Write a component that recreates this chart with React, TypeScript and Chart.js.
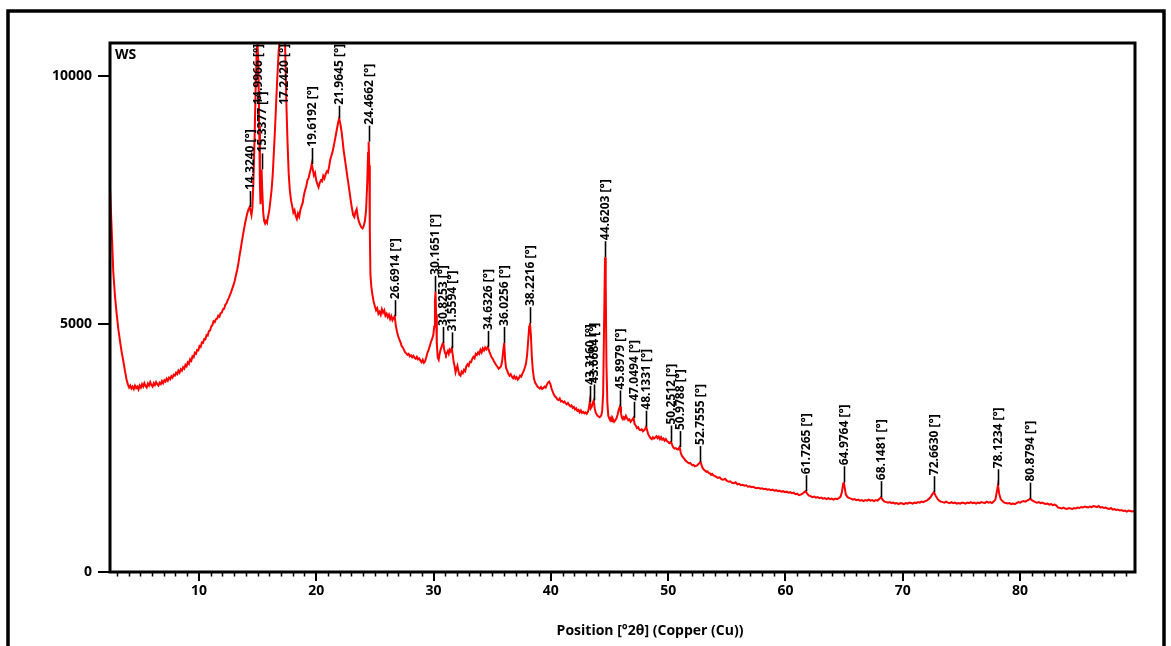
import React, { useEffect, useRef } from 'react';
import { Chart, registerables } from 'chart.js';

Chart.register(...registerables);

// XRD pattern, sample "WS" — [2θ (°), counts]
const lowAngle: [number, number][] = [
  [2.42, 7750], [2.55, 7000], [2.70, 6050], [2.85, 5550], [2.99, 5200], [3.13, 4900], [3.27, 4660],
  [3.41, 4440], [3.55, 4260], [3.70, 4050], [3.84, 3870], [3.95, 3780], [4.05, 3720], [4.15, 3760],
  [4.25, 3700], [4.35, 3740], [4.45, 3690], [4.55, 3760], [4.65, 3710], [4.75, 3740], [4.85, 3680],
  [4.95, 3760], [5.05, 3720], [5.15, 3790], [5.25, 3740], [5.35, 3810], [5.45, 3750], [5.55, 3720],
  [5.65, 3800], [5.75, 3760], [5.85, 3830], [5.95, 3770], [6.05, 3740], [6.15, 3810], [6.25, 3770],
  [6.35, 3830], [6.45, 3790], [6.55, 3760], [6.65, 3820], [6.75, 3790], [6.85, 3850], [6.95, 3810],
  [7.05, 3870], [7.15, 3840], [7.25, 3900], [7.35, 3860], [7.45, 3920], [7.55, 3890], [7.65, 3950],
  [7.75, 3920], [7.85, 3980], [7.95, 3960], [8.05, 4020], [8.15, 3990], [8.25, 4060], [8.35, 4020],
  [8.45, 4090], [8.55, 4060], [8.65, 4130], [8.75, 4100], [8.85, 4180], [8.95, 4150], [9.05, 4230],
  [9.15, 4200], [9.25, 4290], [9.35, 4260], [9.45, 4350], [9.55, 4330], [9.65, 4420], [9.75, 4400],
  [9.85, 4480], [9.95, 4470], [10.05, 4560], [10.15, 4540], [10.25, 4630], [10.35, 4620], [10.45, 4700],
  [10.55, 4690], [10.65, 4780], [10.75, 4770], [10.85, 4860], [10.95, 4870], [11.05, 4950], [11.15, 4980],
  [11.25, 5060], [11.35, 5040], [11.45, 5100], [11.55, 5110], [11.65, 5170], [11.75, 5150], [11.85, 5220],
  [11.95, 5230], [12.05, 5300], [12.15, 5310], [12.25, 5390], [12.35, 5420], [12.45, 5480], [12.55, 5530],
  [12.65, 5590], [12.75, 5650], [12.85, 5720], [12.95, 5790], [13.05, 5870], [13.15, 5980], [13.25, 6080],
  [13.35, 6200], [13.45, 6360], [13.55, 6500], [13.65, 6650], [13.75, 6790], [13.85, 6920], [13.95, 7050],
  [14.05, 7160], [14.15, 7260], [14.25, 7330],
];

const amorphousHump: [number, number][] = [
  [14.32, 7360], [14.40, 7290], [14.48, 7200], [14.56, 7350], [14.65, 7900], [14.75, 8800], [14.85, 9900],
  [14.93, 10550], [15.00, 10650], [15.07, 10200], [15.14, 9000], [15.20, 7800], [15.25, 7420], [15.30, 7800],
  [15.34, 8120], [15.40, 7700], [15.48, 7250], [15.56, 7080], [15.64, 7030], [15.72, 7080], [15.80, 7050],
  [15.90, 7170], [16.00, 7300], [16.10, 7500], [16.20, 7720], [16.30, 8050], [16.40, 8520], [16.50, 9000],
  [16.60, 9550], [16.70, 10050], [16.80, 10500], [16.90, 10800], [17.00, 11000], [17.10, 11100], [17.24, 11200],
  [17.35, 10600], [17.45, 9500], [17.55, 8700], [17.65, 8050], [17.75, 7700], [17.85, 7500], [17.95, 7380],
  [18.05, 7250], [18.15, 7300], [18.25, 7180], [18.35, 7120], [18.45, 7230], [18.55, 7170], [18.65, 7300],
  [18.75, 7380], [18.85, 7450], [18.95, 7600], [19.05, 7700], [19.15, 7780], [19.25, 7900], [19.35, 7950],
  [19.45, 8050], [19.55, 8150], [19.62, 8230], [19.70, 8130], [19.80, 8000], [19.90, 8050], [20.00, 7900],
  [20.10, 7820], [20.20, 7760], [20.30, 7850], [20.40, 7900], [20.50, 7880], [20.60, 7990], [20.70, 7940],
  [20.80, 8020], [20.90, 8080], [21.00, 8060], [21.10, 8180], [21.20, 8320], [21.30, 8400], [21.40, 8480],
  [21.50, 8600], [21.60, 8720], [21.70, 8850], [21.80, 8980], [21.90, 9100], [21.96, 9150], [22.05, 9050],
  [22.15, 8900], [22.25, 8700], [22.35, 8480], [22.45, 8320], [22.55, 8150], [22.65, 7980], [22.75, 7820],
  [22.85, 7650], [22.95, 7480], [23.05, 7330], [23.15, 7200], [23.25, 7160], [23.35, 7260], [23.45, 7320],
  [23.55, 7150], [23.65, 7060], [23.75, 7000], [23.85, 6950], [23.95, 6930], [24.05, 6980], [24.15, 7080],
  [24.25, 7300], [24.35, 7850], [24.42, 8450], [24.47, 8680], [24.52, 8200], [24.57, 6900], [24.62, 6000],
];

const midAngle: [number, number][] = [
  [24.70, 5750], [24.80, 5580], [24.90, 5450], [25.00, 5360], [25.10, 5280], [25.20, 5320], [25.30, 5210],
  [25.40, 5250], [25.50, 5190], [25.60, 5300], [25.70, 5230], [25.80, 5280], [25.90, 5170], [26.00, 5210],
  [26.10, 5140], [26.20, 5190], [26.30, 5100], [26.40, 5160], [26.50, 5080], [26.60, 5130], [26.69, 5160],
  [26.78, 4980], [26.88, 4850], [26.98, 4760], [27.08, 4690], [27.18, 4640], [27.28, 4560], [27.38, 4530],
  [27.48, 4480], [27.58, 4430], [27.68, 4410], [27.78, 4380], [27.88, 4400], [27.98, 4350], [28.08, 4370],
  [28.18, 4330], [28.28, 4360], [28.38, 4320], [28.48, 4300], [28.58, 4340], [28.68, 4290], [28.78, 4310],
  [28.88, 4260], [28.98, 4230], [29.08, 4280], [29.18, 4220], [29.28, 4250], [29.38, 4330], [29.48, 4420],
  [29.58, 4480], [29.68, 4560], [29.78, 4640], [29.88, 4700], [29.98, 4780], [30.06, 4950], [30.12, 5450],
  [30.17, 5650], [30.22, 5200], [30.28, 4600], [30.36, 4320], [30.44, 4280], [30.52, 4400], [30.60, 4480],
  [30.68, 4540], [30.76, 4600], [30.83, 4620], [30.90, 4500], [30.98, 4420], [31.06, 4380], [31.14, 4420],
  [31.22, 4460], [31.30, 4400], [31.38, 4480], [31.46, 4450], [31.56, 4510], [31.64, 4380], [31.72, 4230],
  [31.80, 4150], [31.88, 4030], [31.96, 4100], [32.04, 4160], [32.12, 4060], [32.20, 3980], [32.30, 3960],
  [32.40, 4040], [32.50, 4010], [32.60, 4080], [32.70, 4050], [32.80, 4150], [32.90, 4190], [33.00, 4160],
  [33.10, 4240], [33.20, 4230], [33.30, 4300], [33.40, 4340], [33.50, 4310], [33.60, 4400], [33.70, 4380],
  [33.80, 4430], [33.90, 4400], [34.00, 4480], [34.10, 4430], [34.20, 4510], [34.30, 4470], [34.40, 4530],
  [34.50, 4490], [34.63, 4540], [34.75, 4450], [34.85, 4390], [34.95, 4330], [35.05, 4300], [35.15, 4250],
  [35.25, 4210], [35.35, 4170], [35.45, 4140], [35.55, 4100], [35.65, 4120], [35.75, 4150], [35.85, 4250],
  [35.95, 4480], [36.03, 4620], [36.10, 4300], [36.18, 4120], [36.28, 4060], [36.38, 4000], [36.48, 3960],
  [36.58, 3990], [36.68, 3940], [36.78, 3910], [36.88, 3950], [36.98, 3900], [37.08, 3930], [37.18, 3880],
  [37.28, 3910], [37.38, 3960], [37.48, 3940], [37.58, 4000], [37.68, 4050], [37.78, 4120], [37.88, 4200],
  [37.98, 4380], [38.08, 4700], [38.16, 4950], [38.22, 5020], [38.30, 4780], [38.38, 4350], [38.46, 4080],
  [38.56, 3900], [38.66, 3820], [38.76, 3780], [38.86, 3740], [38.96, 3720], [39.06, 3700], [39.16, 3730],
  [39.26, 3690], [39.36, 3710], [39.46, 3740], [39.56, 3720], [39.66, 3780], [39.76, 3820], [39.86, 3840],
  [39.96, 3790], [40.06, 3700], [40.16, 3640], [40.26, 3580], [40.36, 3540], [40.46, 3520], [40.56, 3480],
  [40.66, 3470], [40.76, 3500], [40.86, 3440], [40.96, 3450], [41.06, 3420], [41.16, 3440], [41.26, 3400],
  [41.36, 3380], [41.46, 3410], [41.56, 3370], [41.66, 3340], [41.76, 3360], [41.86, 3310], [41.96, 3330],
  [42.06, 3280], [42.16, 3300], [42.26, 3250], [42.36, 3270], [42.46, 3220], [42.56, 3260], [42.66, 3210],
  [42.76, 3230], [42.86, 3200], [42.96, 3220], [43.06, 3190], [43.16, 3230], [43.24, 3300], [43.32, 3430],
  [43.40, 3300], [43.48, 3330], [43.56, 3400], [43.66, 3460], [43.74, 3300], [43.82, 3220], [43.90, 3180],
  [43.98, 3150], [44.06, 3140], [44.14, 3120], [44.22, 3130], [44.30, 3160], [44.38, 3250], [44.46, 3600],
  [44.54, 5000], [44.62, 6350], [44.68, 5800], [44.74, 4200], [44.82, 3400], [44.90, 3150], [44.98, 3100],
  [45.06, 3060], [45.14, 3110], [45.22, 3040], [45.30, 3080], [45.40, 3030], [45.50, 3060], [45.60, 3100],
  [45.70, 3180], [45.80, 3280], [45.90, 3340], [45.98, 3200], [46.06, 3110], [46.14, 3080], [46.22, 3120],
  [46.30, 3090], [46.40, 3150], [46.50, 3100], [46.60, 3060], [46.70, 3080], [46.80, 3030], [46.90, 3060],
  [47.05, 3110], [47.15, 2980], [47.25, 2950], [47.35, 2900], [47.45, 2920], [47.55, 2870], [47.65, 2860],
  [47.75, 2880], [47.85, 2840], [47.95, 2860], [48.05, 2890], [48.13, 2930], [48.22, 2850], [48.30, 2780],
  [48.40, 2740], [48.50, 2700], [48.60, 2680], [48.70, 2720], [48.80, 2690], [48.90, 2710], [49.00, 2740],
  [49.10, 2700], [49.20, 2730], [49.30, 2680], [49.40, 2720], [49.50, 2670], [49.60, 2690], [49.70, 2650],
  [49.80, 2680], [49.90, 2640], [50.00, 2620], [50.10, 2600], [50.25, 2630], [50.35, 2560], [50.45, 2510],
  [50.55, 2490], [50.65, 2500], [50.75, 2480], [50.85, 2470], [50.98, 2520], [51.08, 2400], [51.18, 2340],
  [51.28, 2310], [51.38, 2280], [51.48, 2250], [51.58, 2230], [51.68, 2210], [51.78, 2190], [51.88, 2200],
  [51.98, 2170], [52.08, 2150], [52.18, 2160], [52.28, 2130], [52.38, 2140], [52.48, 2150], [52.58, 2180],
  [52.68, 2200], [52.76, 2220], [52.86, 2150], [52.96, 2090], [53.06, 2060], [53.16, 2040], [53.26, 2020],
  [53.36, 2030], [53.46, 2000], [53.56, 1990], [53.66, 1960], [53.76, 1980], [53.86, 1950], [53.96, 1940],
];

const highAngle: [number, number][] = [
  [54.1, 1920], [54.25, 1900], [54.4, 1910], [54.55, 1870], [54.7, 1860], [54.85, 1880], [55.0, 1840],
  [55.15, 1820], [55.3, 1830], [55.45, 1800], [55.6, 1790], [55.75, 1810], [55.9, 1770], [56.05, 1780],
  [56.2, 1750], [56.35, 1760], [56.5, 1740], [56.65, 1750], [56.8, 1720], [56.95, 1730], [57.1, 1710],
  [57.25, 1720], [57.4, 1700], [57.55, 1690], [57.7, 1700], [57.85, 1680], [58.0, 1690], [58.15, 1670],
  [58.3, 1680], [58.45, 1660], [58.6, 1670], [58.75, 1650], [58.9, 1660], [59.05, 1640], [59.2, 1650],
  [59.35, 1630], [59.5, 1640], [59.65, 1620], [59.8, 1630], [59.95, 1610], [60.1, 1620], [60.25, 1600],
  [60.4, 1610], [60.55, 1590], [60.7, 1600], [60.85, 1570], [61.0, 1580], [61.15, 1550], [61.3, 1560],
  [61.45, 1580], [61.6, 1610], [61.73, 1630], [61.85, 1580], [62.0, 1540], [62.15, 1530], [62.3, 1510],
  [62.45, 1520], [62.6, 1500], [62.75, 1510], [62.9, 1490], [63.05, 1500], [63.2, 1480], [63.35, 1490],
  [63.5, 1470], [63.65, 1490], [63.8, 1470], [63.95, 1480], [64.1, 1460], [64.25, 1480], [64.4, 1470],
  [64.55, 1490], [64.7, 1520], [64.82, 1620], [64.92, 1780], [64.98, 1810], [65.05, 1700], [65.15, 1560],
  [65.3, 1510], [65.45, 1490], [65.6, 1480], [65.75, 1460], [65.9, 1470], [66.05, 1450], [66.2, 1460],
  [66.35, 1440], [66.5, 1450], [66.65, 1430], [66.8, 1450], [66.95, 1440], [67.1, 1460], [67.25, 1440],
  [67.4, 1450], [67.55, 1430], [67.7, 1450], [67.85, 1440], [68.0, 1470], [68.15, 1510], [68.3, 1450],
  [68.45, 1420], [68.6, 1410], [68.75, 1400], [68.9, 1410], [69.05, 1390], [69.2, 1400], [69.35, 1380],
  [69.5, 1390], [69.65, 1370], [69.8, 1390], [69.95, 1380], [70.1, 1370], [70.25, 1390], [70.4, 1380],
  [70.55, 1400], [70.7, 1390], [70.85, 1380], [71.0, 1400], [71.15, 1390], [71.3, 1410], [71.45, 1400],
  [71.6, 1420], [71.75, 1410], [71.9, 1430], [72.05, 1440], [72.2, 1470], [72.35, 1500], [72.5, 1560],
  [72.66, 1610], [72.8, 1540], [72.95, 1480], [73.1, 1440], [73.25, 1420], [73.4, 1410], [73.55, 1400],
  [73.7, 1420], [73.85, 1400], [74.0, 1390], [74.15, 1410], [74.3, 1390], [74.45, 1400], [74.6, 1380],
  [74.75, 1390], [74.9, 1380], [75.05, 1400], [75.2, 1390], [75.35, 1380], [75.5, 1400], [75.65, 1390],
  [75.8, 1410], [75.95, 1390], [76.1, 1400], [76.25, 1380], [76.4, 1400], [76.55, 1390], [76.7, 1410],
  [76.85, 1400], [77.0, 1390], [77.15, 1420], [77.3, 1400], [77.45, 1410], [77.6, 1390], [77.75, 1420],
  [77.9, 1460], [78.02, 1620], [78.12, 1750], [78.22, 1580], [78.35, 1470], [78.5, 1430], [78.65, 1400],
  [78.8, 1390], [78.95, 1380], [79.1, 1390], [79.25, 1370], [79.4, 1380], [79.55, 1370], [79.7, 1390],
  [79.85, 1410], [80.0, 1400], [80.15, 1420], [80.3, 1430], [80.45, 1420], [80.6, 1440], [80.75, 1460],
  [80.88, 1480], [81.0, 1450], [81.15, 1430], [81.3, 1410], [81.45, 1400], [81.6, 1410], [81.75, 1390],
  [81.9, 1400], [82.05, 1380], [82.2, 1370], [82.35, 1380], [82.5, 1360], [82.65, 1370], [82.8, 1350],
  [82.95, 1360], [83.1, 1340], [83.25, 1300], [83.4, 1290], [83.55, 1280], [83.7, 1300], [83.85, 1280],
  [84.0, 1270], [84.15, 1290], [84.3, 1280], [84.45, 1270], [84.6, 1290], [84.75, 1280], [84.9, 1300],
  [85.05, 1290], [85.2, 1310], [85.35, 1300], [85.5, 1320], [85.65, 1310], [85.8, 1300], [85.95, 1320],
  [86.1, 1310], [86.25, 1330], [86.4, 1320], [86.55, 1310], [86.7, 1330], [86.85, 1300], [87.0, 1310],
  [87.15, 1290], [87.3, 1300], [87.45, 1280], [87.6, 1270], [87.75, 1290], [87.9, 1260], [88.05, 1270],
  [88.2, 1250], [88.35, 1260], [88.5, 1240], [88.65, 1250], [88.8, 1230], [88.95, 1240], [89.1, 1220],
  [89.25, 1240], [89.4, 1230], [89.55, 1220], [89.8, 1230],
];

// Labelled peak positions [°2θ]
const peakPositions: number[] = [
  14.3240, 14.9966, 15.3377, 17.2420, 19.6192, 21.9645, 24.4662, 26.6914, 30.1651, 30.8253,
  31.5594, 34.6326, 36.0256, 38.2216, 43.3160, 43.6684, 44.6203, 45.8979, 47.0494, 48.1331,
  50.2512, 50.9788, 52.7555, 61.7265, 64.9764, 68.1481, 72.6630, 78.1234, 80.8794,
];

const xTickValues: number[] = [10, 20, 30, 40, 50, 60, 70, 80];
const yTickValues: number[] = [0, 5000, 10000];
const xRange: [number, number] = [2.42, 89.8];
const yRange: [number, number] = [0, 10670];
const sampleName = 'WS';
const xTitle = 'Position [°2θ] (Copper (Cu))';

const pattern: [number, number][] = [...lowAngle, ...amorphousHump, ...midAngle, ...highAngle];

const FONT = '"Open Sans", "Noto Sans", "DejaVu Sans", sans-serif';

const decorPlugin = {
  id: 'decor',
  beforeDraw(chart: any) {
    const { ctx } = chart;
    ctx.save();
    ctx.fillStyle = '#ffffff';
    ctx.fillRect(0, 0, chart.width, chart.height);
    ctx.restore();
  },
  afterDraw(chart: any) {
    const { ctx, chartArea: a, scales } = chart;
    const x = scales.x;
    const y = scales.y;
    ctx.save();
    ctx.strokeStyle = '#000';
    ctx.fillStyle = '#000';

    // minor x ticks every 1°
    ctx.lineWidth = 1.5;
    ctx.beginPath();
    for (let v = Math.ceil(xRange[0]); v <= Math.floor(xRange[1]); v++) {
      if (v % 10 === 0) continue;
      const px = Math.round(x.getPixelForValue(v)) + 0.5;
      ctx.moveTo(px, a.bottom);
      ctx.lineTo(px, a.bottom + 4.5);
    }
    ctx.stroke();

    // peak labels
    ctx.font = `bold 12px ${FONT}`;
    ctx.textAlign = 'left';
    ctx.textBaseline = 'middle';
    ctx.lineWidth = 1.6;
    for (const p of peakPositions) {
      let h = 0;
      for (const [t, c] of pattern) {
        if (Math.abs(t - p) <= 0.12 && c > h) h = c;
      }
      const label = `${p.toFixed(4)} [°]`;
      const px = Math.round(x.getPixelForValue(p)) + 0.5;
      const py = Math.max(y.getPixelForValue(h), a.top);
      const w = ctx.measureText(label).width;
      let textBottom = py - 16;
      if (textBottom - w < a.top + 2) textBottom = a.top + 2 + w;
      if (py > textBottom) {
        ctx.beginPath();
        ctx.moveTo(px, py);
        ctx.lineTo(px, textBottom);
        ctx.stroke();
      }
      ctx.save();
      ctx.translate(px, textBottom);
      ctx.rotate(-Math.PI / 2);
      ctx.fillText(label, 1, 0);
      ctx.restore();
    }

    // plot frame
    ctx.lineWidth = 3;
    ctx.strokeRect(a.left, a.top, a.right - a.left, a.bottom - a.top);

    // sample name
    ctx.font = `bold 14px ${FONT}`;
    ctx.textAlign = 'left';
    ctx.textBaseline = 'middle';
    ctx.fillText(sampleName, a.left + 5, a.top + 12);

    // x title
    ctx.font = `bold 14px ${FONT}`;
    ctx.textAlign = 'center';
    ctx.fillText(xTitle, 650, 631);

    // outer picture frame
    ctx.lineWidth = 3.5;
    ctx.strokeRect(8, 11, 1156, 700);
    ctx.restore();
  },
};

export default function App() {
  const ref = useRef<HTMLCanvasElement | null>(null);

  useEffect(() => {
    if (!ref.current) return;
    const chart = new Chart(ref.current, {
      type: 'line',
      data: {
        datasets: [
          {
            label: sampleName,
            data: pattern.map(([t, c]) => ({ x: t, y: c })),
            borderColor: 'rgb(255, 0, 0)',
            borderWidth: 2,
            pointRadius: 0,
            tension: 0,
            fill: false,
          },
        ],
      },
      options: {
        animation: false,
        responsive: false,
        events: [],
        layout: { padding: { left: 50, top: 43, right: 36, bottom: 34 } },
        plugins: {
          legend: { display: false },
          tooltip: { enabled: false },
          title: { display: false },
        },
        scales: {
          x: {
            type: 'linear',
            min: xRange[0],
            max: xRange[1],
            afterFit: (s: any) => {
              s.height = 40;
            },
            afterBuildTicks: (s: any) => {
              s.ticks = xTickValues.map((v) => ({ value: v }));
            },
            ticks: {
              autoSkip: false,
              maxRotation: 0,
              padding: 2,
              color: '#000',
              font: { family: FONT, size: 14, weight: 'bold' },
              callback: (v: any) => String(v),
            },
            grid: {
              display: true,
              drawOnChartArea: false,
              drawTicks: true,
              tickLength: 9,
              color: '#000',
              lineWidth: 2,
            },
            border: { display: false },
          },
          y: {
            type: 'linear',
            min: yRange[0],
            max: yRange[1],
            afterFit: (s: any) => {
              s.width = 60;
            },
            afterBuildTicks: (s: any) => {
              s.ticks = yTickValues.map((v) => ({ value: v }));
            },
            ticks: {
              autoSkip: false,
              padding: 6,
              color: '#000',
              font: { family: FONT, size: 14, weight: 'bold' },
              callback: (v: any) => String(v),
            },
            grid: {
              display: true,
              drawOnChartArea: false,
              drawTicks: true,
              tickLength: 12,
              color: '#000',
              lineWidth: 2,
            },
            border: { display: false },
          },
        },
      },
      plugins: [decorPlugin],
    });
    return () => chart.destroy();
  }, []);

  return (
    <div style={{ position: 'fixed', left: 0, top: 0, width: 1171, height: 646, background: '#fff' }}>
      <canvas ref={ref} width={1171} height={646} style={{ display: 'block', width: 1171, height: 646 }} />
    </div>
  );
}
